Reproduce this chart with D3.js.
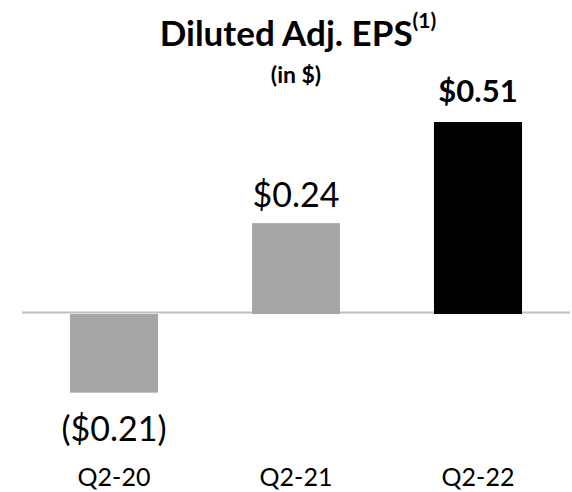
<!DOCTYPE html>
<html>
<head>
<meta charset="utf-8">
<script src="https://cdn.jsdelivr.net/npm/d3@7"></script>
<style>
  html, body { margin: 0; padding: 0; background: #fff; }
  svg { display: block; font-family: Lato, "Open Sans", sans-serif; }
</style>
</head>
<body>
<svg id="chart" width="572" height="492"></svg>
<script>
// Quarterly diluted adjusted EPS
const quarters = ["Q2-20", "Q2-21", "Q2-22"];
const eps = [-0.21, 0.24, 0.51];
const valueLabels = ["($0.21)", "$0.24", "$0.51"];
const barColors = ["#a6a6a6", "#a6a6a6", "#000000"];

const svg = d3.select("#chart");

const x = d3.scaleBand()
  .domain(quarters)
  .range([23, 569])
  .paddingInner(0.516)
  .paddingOuter(0.258);

const y = d3.scaleLinear()
  .domain([0, 0.51])
  .range([313, 122]);

// Title
const title = svg.append("text")
  .attr("x", 298)
  .attr("y", 46)
  .attr("text-anchor", "middle")
  .attr("font-size", 35)
  .attr("font-weight", "bold")
  .attr("fill", "#000");
title.append("tspan").text("Diluted Adj. EPS");
title.append("tspan")
  .attr("font-size", 21)
  .attr("dy", -18)
  .text("(1)");

svg.append("text")
  .attr("x", 296)
  .attr("y", 83)
  .attr("text-anchor", "middle")
  .attr("font-size", 23)
  .attr("font-weight", "bold")
  .text("(in $)");

// Zero line
svg.append("line")
  .attr("x1", 22)
  .attr("x2", 570)
  .attr("y1", y(0) - 0.5)
  .attr("y2", y(0) - 0.5)
  .attr("stroke", "#bfbfbf")
  .attr("stroke-width", 2);

const data = quarters.map((q, i) => ({ q, v: eps[i], label: valueLabels[i], color: barColors[i] }));

// Bars
svg.selectAll("rect.bar")
  .data(data)
  .join("rect")
  .attr("class", "bar")
  .attr("x", d => x(d.q))
  .attr("width", x.bandwidth())
  .attr("y", d => d.v >= 0 ? y(d.v) : y(0) + 1)
  .attr("height", d => d.v >= 0 ? y(0) - y(d.v) + 1 : y(d.v) - y(0))
  .attr("fill", d => d.color);

// Value labels
const last = data.length - 1;
svg.selectAll("text.value")
  .data(data)
  .join("text")
  .attr("class", "value")
  .attr("x", d => x(d.q) + x.bandwidth() / 2)
  .attr("y", (d, i) => d.v < 0 ? y(d.v) + 49 : (i === last ? y(d.v) - 20 : y(d.v) - 16))
  .attr("text-anchor", "middle")
  .attr("font-size", (d, i) => i === last ? 31 : 34)
  .attr("font-weight", (d, i) => i === last ? "bold" : "normal")
  .text(d => d.label);

// Category axis labels
svg.selectAll("text.cat")
  .data(data)
  .join("text")
  .attr("class", "cat")
  .attr("x", d => x(d.q) + x.bandwidth() / 2)
  .attr("y", 486)
  .attr("text-anchor", "middle")
  .attr("font-size", 25)
  .text(d => d.q);
</script>
</body>
</html>
